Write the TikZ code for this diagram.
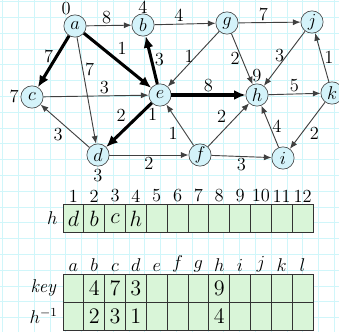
\documentclass[tikz,border=0pt]{standalone}
\usepackage{amsmath,amssymb}
\usepackage{xcolor}
\usepackage{tikz}
\usetikzlibrary{positioning,arrows.meta}

\definecolor{gridcyan}{RGB}{208,246,250}
\definecolor{vertexfill}{RGB}{212,243,250}
\definecolor{cellfill}{RGB}{217,245,216}

\begin{document}
\begin{tikzpicture}[x=0.65pt, y=-0.65pt, font=\large,
  vertex/.style={circle, draw=black!75, fill=vertexfill, minimum size=14.5pt, inner sep=0pt},
  arrow/.style={-{Latex[length=5pt,width=4pt]}, draw=black!75, line width=0.6pt},
  heavy/.style={-{Latex[length=7.5pt,width=6.5pt]}, line width=2pt},
  weight/.style={inner sep=1.2pt},
  cell/.style={draw=black!80, fill=cellfill, line width=0.6pt, minimum width=13.54pt, minimum height=18.2pt, inner sep=0pt}
]
\useasboundingbox (0,0) rectangle (339,332);
% background grid
\foreach \x in {0,...,21} \draw[gridcyan, line width=0.5pt] (2.6+\x*15.8,0) -- (2.6+\x*15.8,332);
\foreach \y in {0,...,20} \draw[gridcyan, line width=0.5pt] (0,1.5+\y*15.8) -- (339,1.5+\y*15.8);

% graph
\node[vertex, label={[inner sep=0pt]110:$0$}] (a) at (75,26) {$a$};
\node[vertex, label={[inner sep=0pt]above:$4$}] (b) at (143,25) {$b$};
\node[vertex] (g) at (227,23) {$g$};
\node[vertex] (j) at (312,22) {$j$};
\node[vertex, label={[inner sep=1pt]left:$7$}] (c) at (32,97) {$c$};
\node[vertex, label={[inner sep=1pt]265:$1$}] (e) at (160,95) {$e$};
\node[vertex, label={[inner sep=1pt]above:$9$}] (h) at (257,95) {$h$};
\node[vertex] (k) at (332,93) {$k$};
\node[vertex, label={[inner sep=2pt]below:$3$}] (d) at (98,155) {$d$};
\node[vertex] (f) at (200,155) {$f$};
\node[vertex] (i) at (283,158) {$i$};

\draw[arrow] (a) -- node[weight, pos=.45, above] {$8$} (b);
\draw[arrow] (b) -- node[weight, pos=.4, above] {$4$} (g);
\draw[arrow] (g) -- node[weight, pos=.4, above] {$7$} (j);
\draw[heavy] (a) -- node[weight, pos=.4, left] {$7$} (c);
\draw[heavy] (a) -- node[weight, pos=.45, above right] {$1$} (e);
\draw[arrow] (a) -- node[weight, pos=.3, right] {$7$} (d);
\draw[heavy] (e) -- node[weight, right] {$3$} (b);
\draw[arrow] (c) -- node[weight, pos=.58, above] {$3$} (e);
\draw[arrow] (g) -- node[weight, pos=.45, left] {$1$} (e);
\draw[arrow] (g) -- node[weight, left] {$2$} (h);
\draw[arrow] (j) -- node[weight, pos=.45, left] {$3$} (h);
\draw[arrow] (k) -- node[weight, right] {$1$} (j);
\draw[heavy] (e) -- node[weight, above] {$8$} (h);
\draw[arrow] (h) -- node[weight, above] {$5$} (k);
\draw[heavy] (e) -- node[weight, above left] {$2$} (d);
\draw[arrow] (d) -- node[weight, below left] {$3$} (c);
\draw[arrow] (d) -- node[weight, below] {$2$} (f);
\draw[arrow] (f) -- node[weight, below left] {$1$} (e);
\draw[arrow] (f) -- node[weight, above left] {$2$} (h);
\draw[arrow] (f) -- node[weight, below] {$3$} (i);
\draw[arrow] (i) -- node[weight, right] {$4$} (h);
\draw[arrow] (k) -- node[weight, below right] {$2$} (i);

% heap array h
\foreach \i in {1,...,12} {
  \node[cell] (h\i) at (52.58+\i*20.83,218.35) {};
  \node[above=0pt of h\i, inner sep=1pt] (idx\i) {\i};
}
\node[left=3pt of h1, inner sep=0pt] (hname) {$h$};
\foreach \i/\v in {1/d,2/b,3/c,4/h} \node (hv\i) at (h\i) {\Large$\v$};

% key and inverse arrays
\foreach \l [count=\i] in {a,...,l} {
  \node[cell] (key\l) at (52.58+\i*20.83,288) {};
  \node[cell] (inv\l) at (52.58+\i*20.83,316) {};
  \node[above=0pt of key\l, inner sep=1pt] (col\l) {$\l$};
}
\node[left=3pt of keya, inner sep=0pt] (keyname) {$\mathit{key}$};
\node[left=3pt of inva, inner sep=0pt] (invname) {$h^{-1}$};
\foreach \l/\k/\p in {b/4/2,c/7/3,d/3/1,h/9/4} {
  \node (kv\l) at (key\l) {\Large\k};
  \node (pv\l) at (inv\l) {\Large\p};
}
\end{tikzpicture}
\end{document}
